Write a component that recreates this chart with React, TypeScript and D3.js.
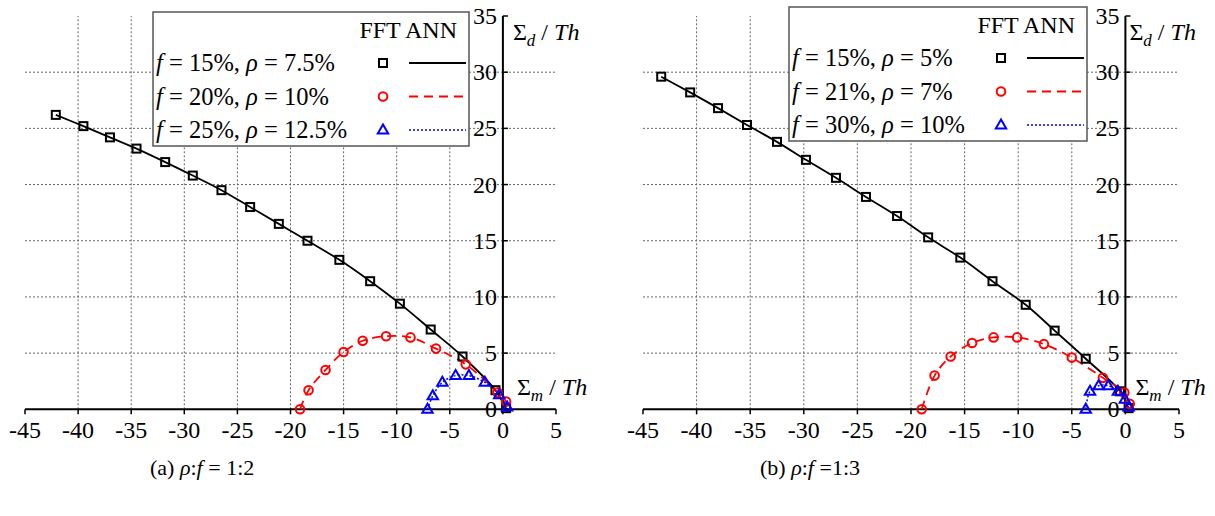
import * as d3 from "d3";

// axis ticks
const xTicks = [-45, -40, -35, -30, -25, -20, -15, -10, -5, 0, 5];
const yTicks = [0, 5, 10, 15, 20, 25, 30, 35];

// (a) rho:f = 1:2  -- FFT points [Σm, Σd]
const fftA15: [number, number][] = [
  [-42.1, 26.2], [-39.5, 25.2], [-37.0, 24.2], [-34.5, 23.2], [-31.8, 22.0],
  [-29.2, 20.8], [-26.5, 19.5], [-23.8, 18.0], [-21.1, 16.5], [-18.4, 15.0],
  [-15.4, 13.3], [-12.5, 11.4], [-9.7, 9.4], [-6.8, 7.1], [-3.8, 4.7],
  [-0.7, 1.7], [0.3, 0.1],
];
const fftA20: [number, number][] = [
  [-19.1, 0], [-18.3, 1.7], [-16.7, 3.5], [-15.0, 5.1], [-13.2, 6.1],
  [-11.0, 6.5], [-8.7, 6.4], [-6.3, 5.4], [-3.5, 4.0], [-0.5, 1.5], [0.3, 0.7],
];
const fftA25: [number, number][] = [
  [-7.1, 0], [-6.6, 1.2], [-5.7, 2.4], [-4.45, 3.0], [-3.2, 3.0],
  [-1.7, 2.4], [-0.35, 1.3], [0.4, 0.2],
];
// ANN curves
const annA15: [number, number][] = [...fftA15, [0.6, -0.2]];
const annA20: [number, number][] = [...fftA20, [0.8, -0.1]];
const annA25: [number, number][] = [...fftA25, [0.6, -0.1]];

// (b) rho:f = 1:3
const fftB15: [number, number][] = [
  [-43.3, 29.6], [-40.6, 28.2], [-38.0, 26.8], [-35.3, 25.3], [-32.5, 23.8],
  [-29.8, 22.2], [-27.0, 20.6], [-24.2, 18.9], [-21.3, 17.2], [-18.4, 15.3],
  [-15.4, 13.5], [-12.4, 11.4], [-9.3, 9.3], [-6.6, 7.0], [-3.7, 4.5],
  [-0.5, 1.6], [0.3, 0.1],
];
const fftB21: [number, number][] = [
  [-19.0, 0], [-17.8, 3.0], [-16.3, 4.7], [-14.3, 5.9], [-12.3, 6.4],
  [-10.1, 6.4], [-7.6, 5.8], [-5.0, 4.6], [-2.1, 2.8], [-0.1, 1.5], [0.4, 0.5],
];
const fftB30: [number, number][] = [
  [-3.7, 0], [-3.3, 1.6], [-2.5, 2.1], [-1.6, 2.1], [-0.7, 1.6], [-0.05, 0.9], [0.3, 0.2],
];
const annB15: [number, number][] = [...fftB15, [0.6, -0.2]];
const annB21: [number, number][] = [...fftB21, [0.8, -0.1]];
const annB30: [number, number][] = [...fftB30, [0.5, -0.1]];

const legendA = [
  ["15%", "7.5%"],
  ["20%", "10%"],
  ["25%", "12.5%"],
];
const legendB = [
  ["15%", "5%"],
  ["21%", "7%"],
  ["30%", "10%"],
];

const SERIF = "'Liberation Serif', 'Times New Roman', serif";
const RED = "#ff0000";
const BLUE = "#0000ff";

type Pt = [number, number];

function Marker({ kind, cx, cy }: { kind: number; cx: number; cy: number }) {
  if (kind === 0)
    return <rect x={cx - 4} y={cy - 4} width={8} height={8} fill="none" stroke="#000" strokeWidth={2} />;
  if (kind === 1) return <circle cx={cx} cy={cy} r={4.3} fill="none" stroke={RED} strokeWidth={2} />;
  return (
    <path
      d={`M${cx},${cy - 5.5}L${cx + 5.2},${cy + 3.5}L${cx - 5.2},${cy + 3.5}Z`}
      fill="none"
      stroke={BLUE}
      strokeWidth={2}
    />
  );
}

const lineStyle = [
  { stroke: "#000", dash: undefined, w: 1.8 },
  { stroke: RED, dash: "9,6", w: 1.8 },
  { stroke: BLUE, dash: "2,2", w: 1.5 },
];

function Panel({
  xRange,
  fft,
  ann,
  legend,
  box,
  labelOff,
}: {
  xRange: [number, number];
  fft: Pt[][];
  ann: Pt[][];
  legend: string[][];
  box: { x: number; y: number; w: number; h: number };
  labelOff: { d: number; m: number };
}) {
  const x = d3.scaleLinear().domain([-45, 5]).range(xRange);
  const y = d3.scaleLinear().domain([0, 35]).range([409.3, 16]);
  const line = d3
    .line<Pt>()
    .x((d) => x(d[0]))
    .y((d) => y(d[1]))
    .curve(d3.curveCatmullRom);

  const x0 = x(0);
  const y0 = y(0);

  return (
    <g>
      {/* grid */}
      {xTicks
        .filter((t) => t !== -45 && t !== 5 && t !== 0)
        .map((t) => (
          <line key={"gx" + t} x1={x(t)} x2={x(t)} y1={y(0)} y2={y(35)} stroke="#666" strokeWidth={1} strokeDasharray="2,2" />
        ))}
      {yTicks
        .filter((t) => t !== 0 && t !== 35)
        .map((t) => (
          <line key={"gy" + t} x1={x(-45)} x2={x(5)} y1={y(t)} y2={y(t)} stroke="#666" strokeWidth={1} strokeDasharray="2,2" />
        ))}

      {/* axes */}
      <line x1={x(-45)} x2={x(5)} y1={y0} y2={y0} stroke="#000" strokeWidth={2} />
      <line x1={x0} x2={x0} y1={y0} y2={y(35)} stroke="#000" strokeWidth={2} />
      {xTicks.map((t) => (
        <g key={"tx" + t}>
          <line x1={x(t)} x2={x(t)} y1={y0} y2={y0 + 5} stroke="#000" strokeWidth={1.5} />
          <text x={x(t)} y={y0 + 29} textAnchor="middle" fontFamily={SERIF} fontSize={24}>
            {t < 0 ? "-" + Math.abs(t) : t}
          </text>
        </g>
      ))}
      {yTicks.map((t) => (
        <g key={"ty" + t}>
          <line x1={x0} x2={x0 + 5} y1={y(t)} y2={y(t)} stroke="#000" strokeWidth={1.5} />
          <text x={x0 - 6} y={y(t) + 8} textAnchor="end" fontFamily={SERIF} fontSize={24}>
            {t}
          </text>
        </g>
      ))}

      {/* axis labels */}
      <text x={x0 + labelOff.d} y={40} fontFamily={SERIF} fontSize={24}>
        Σ<tspan fontStyle="italic" fontSize={17} dy={6}>d</tspan>
        <tspan dy={-6}> / </tspan>
        <tspan fontStyle="italic">Th</tspan>
      </text>
      <text x={x0 + labelOff.m} y={395} fontFamily={SERIF} fontSize={24}>
        Σ<tspan fontStyle="italic" fontSize={17} dy={6}>m</tspan>
        <tspan dy={-6}> / </tspan>
        <tspan fontStyle="italic">Th</tspan>
      </text>

      {/* ANN curves */}
      {ann.map((s, i) => (
        <path
          key={"ann" + i}
          d={line(s) ?? ""}
          fill="none"
          stroke={lineStyle[i].stroke}
          strokeWidth={lineStyle[i].w}
          strokeDasharray={lineStyle[i].dash}
        />
      ))}
      {/* FFT markers */}
      {fft.map((s, i) =>
        s.map((p, j) => <Marker key={`m${i}-${j}`} kind={i} cx={x(p[0])} cy={y(p[1])} />)
      )}

      {/* legend */}
      <rect x={box.x} y={box.y} width={box.w} height={box.h} fill="#fff" stroke="#555" strokeWidth={1.5} />
      <text x={box.x + box.w - 12} y={box.y + 26} textAnchor="end" fontFamily={SERIF} fontSize={24}>
        FFT ANN
      </text>
      {legend.map((row, i) => {
        const cy = box.y + 51 + i * 33.5;
        return (
          <g key={"lg" + i}>
            <text x={box.x + 3} y={cy + 8} fontFamily={SERIF} fontSize={24.5}>
              <tspan fontStyle="italic">f</tspan> = {row[0]}, <tspan fontStyle="italic">ρ</tspan> = {row[1]}
            </text>
            <Marker kind={i} cx={box.x + box.w - 86} cy={cy} />
            <line
              x1={box.x + box.w - 60}
              x2={box.x + box.w - 3}
              y1={cy}
              y2={cy}
              stroke={lineStyle[i].stroke}
              strokeWidth={lineStyle[i].w}
              strokeDasharray={lineStyle[i].dash}
            />
          </g>
        );
      })}
    </g>
  );
}

export default function App() {
  return (
    <div style={{ position: "absolute", left: 0, top: 0 }}>
      <svg width={1215} height={516} style={{ display: "block", background: "#fff" }}>
        <Panel
          xRange={[25, 556]}
          fft={[fftA15, fftA20, fftA25]}
          ann={[annA15, annA20, annA25]}
          legend={legendA}
          box={{ x: 153, y: 12, w: 316, h: 134 }}
          labelOff={{ d: 10, m: 14 }}
        />
        <Panel
          xRange={[643, 1179]}
          fft={[fftB15, fftB21, fftB30]}
          ann={[annB15, annB21, annB30]}
          legend={legendB}
          box={{ x: 789, y: 7, w: 298, h: 134 }}
          labelOff={{ d: 4, m: 10 }}
        />
        <text x={150} y={475} fontFamily={SERIF} fontSize={22}>
          (a) <tspan fontStyle="italic">ρ</tspan>:<tspan fontStyle="italic">f</tspan> = 1:2
        </text>
        <text x={760} y={475} fontFamily={SERIF} fontSize={22}>
          (b) <tspan fontStyle="italic">ρ</tspan>:<tspan fontStyle="italic">f</tspan> =1:3
        </text>
      </svg>
    </div>
  );
}
